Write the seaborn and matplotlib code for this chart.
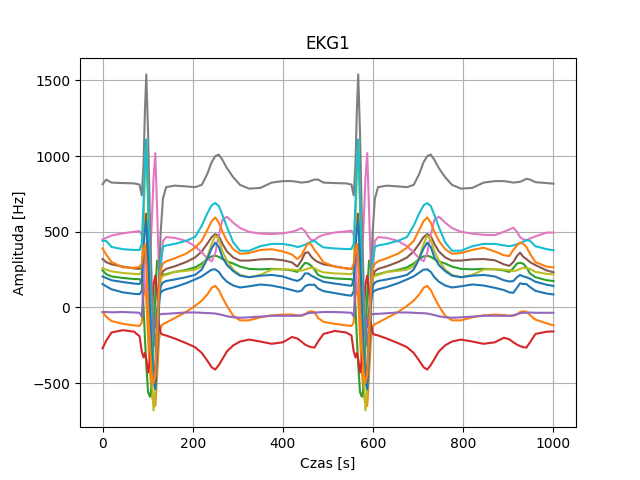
import matplotlib
matplotlib.use("Agg")
import matplotlib.pyplot as plt
import seaborn as sns

# os czasu (dwa pelne cykle + poczatek trzeciego)
czas = [0, 8, 20, 45, 70, 82, 87, 91, 94, 97, 101, 105, 109, 113, 117, 121, 125, 129, 134, 141,
        160, 185, 205, 220, 232, 242, 250, 258, 266, 276, 290, 305, 325, 350, 375, 400, 420, 432, 441, 449, 456, 463,
        470, 478, 490, 515, 540, 552, 557, 561, 564, 567, 571, 575, 579, 583, 587, 591, 595, 599, 604, 611,
        630, 655, 675, 690, 702, 712, 720, 728, 736, 746, 760, 775, 795, 820, 845, 870, 890, 902, 911, 919, 926, 933,
        940, 948, 960, 985, 1000]

k1 = [155, 140, 120, 100, 90, 88, 110, 250, 350, 400, 250, 50, -100, -160, -120, -20, 60, 100, 112, 120,
      135, 160, 185, 205, 230, 250, 252, 235, 200, 170, 145, 132, 140, 152, 145, 130, 115, 105, 110, 140, 150, 150,
      150, 125, 108, 95, 82, 78, 105, 250, 350, 400, 250, 50, -100, -160, -120, -20, 60, 100, 112, 120,
      135, 160, 185, 205, 230, 250, 252, 235, 200, 170, 145, 132, 140, 152, 145, 130, 115, 100, 97, 130, 160, 155,
      155, 135, 110, 92, 86]
k2 = [-30, -60, -90, -108, -118, -122, -100, 80, 150, 60, -200, -420, -570, -640, -650, -450, -220, -130, -110, -100,
      -70, -30, 10, 45, 85, 130, 143, 115, 65, 10, -55, -85, -85, -65, -52, -47, -47, -52, -55, -45, -30, -25,
      -30, -70, -95, -108, -118, -122, -100, 80, 150, 60, -200, -420, -570, -640, -650, -450, -220, -130, -110, -100,
      -70, -30, 10, 45, 85, 130, 143, 115, 65, 10, -55, -85, -85, -65, -52, -47, -50, -55, -55, -45, -30, -25,
      -28, -50, -80, -105, -118]
k3 = [245, 220, 205, 195, 188, 187, 170, 0, -200, -380, -560, -590, -530, -250, 100, 310, 260, 215, 215, 220,
      235, 248, 265, 290, 320, 338, 342, 335, 320, 305, 290, 270, 255, 252, 255, 252, 245, 235, 265, 295, 290, 275,
      250, 215, 200, 192, 188, 187, 170, 0, -200, -380, -560, -590, -530, -250, 100, 310, 260, 215, 215, 220,
      235, 248, 265, 290, 320, 338, 342, 335, 320, 305, 290, 270, 255, 252, 255, 252, 245, 235, 260, 290, 295, 290,
      265, 225, 200, 180, 175]
k4 = [-270, -220, -165, -150, -160, -190, -290, -330, -300, -340, -430, -350, -50, 150, 210, 100, -100, -170, -180, -185,
      -205, -235, -262, -300, -350, -395, -410, -380, -340, -290, -250, -225, -212, -225, -240, -230, -195, -205, -225, -245, -255, -262,
      -265, -225, -175, -155, -165, -185, -290, -330, -300, -340, -430, -350, -50, 150, 210, 100, -100, -170, -180, -185,
      -205, -235, -262, -300, -350, -395, -410, -380, -340, -290, -250, -225, -212, -225, -240, -230, -200, -210, -230, -245, -255, -262,
      -265, -230, -175, -160, -158]
k5 = [-30, -30, -32, -30, -33, -35, -60, 150, 350, 420, 250, -100, -200, -150, -80, -50, -45, -45, -42, -42,
      -38, -33, -33, -35, -37, -38, -40, -45, -50, -58, -65, -68, -65, -60, -55, -55, -55, -55, -52, -45, -38, -35,
      -35, -32, -30, -30, -33, -35, -60, 150, 350, 420, 250, -100, -200, -150, -80, -50, -45, -45, -42, -42,
      -38, -33, -33, -35, -37, -38, -40, -45, -50, -58, -65, -68, -65, -60, -55, -55, -55, -55, -52, -45, -38, -35,
      -35, -33, -35, -35, -35]
k6 = [320, 300, 285, 270, 258, 255, 260, 420, 600, 620, 300, -100, -350, -430, -380, -150, 80, 200, 240, 255,
      272, 300, 330, 370, 420, 465, 485, 470, 420, 370, 330, 310, 310, 318, 320, 312, 298, 270, 310, 360, 365, 335,
      315, 300, 285, 272, 258, 255, 260, 420, 600, 620, 300, -100, -350, -430, -380, -150, 80, 200, 240, 255,
      272, 300, 330, 370, 420, 465, 485, 470, 420, 370, 330, 310, 310, 318, 320, 312, 285, 275, 300, 340, 362, 335,
      320, 300, 280, 245, 232]
k7 = [450, 460, 475, 490, 500, 505, 480, 300, 150, 100, 150, 300, 550, 850, 1020, 650, 250, 250, 440, 465,
      460, 440, 405, 365, 325, 305, 360, 480, 580, 600, 560, 525, 500, 488, 485, 490, 500, 512, 525, 505, 470, 445,
      445, 465, 480, 495, 503, 507, 480, 300, 150, 100, 150, 300, 550, 850, 1020, 650, 250, 250, 440, 465,
      460, 440, 405, 365, 325, 305, 360, 480, 580, 600, 560, 525, 500, 488, 480, 478, 500, 515, 527, 500, 465, 450,
      445, 455, 470, 495, 495]
k8 = [815, 845, 825, 822, 820, 812, 740, 950, 1300, 1540, 1150, 600, 150, -150, -250, -100, 200, 500, 720, 795,
      805, 800, 795, 810, 880, 960, 1000, 1010, 975, 920, 860, 810, 785, 790, 825, 835, 835, 830, 825, 828, 830, 838,
      845, 845, 825, 822, 820, 812, 740, 950, 1300, 1540, 1150, 600, 150, -150, -250, -100, 200, 500, 720, 795,
      805, 800, 795, 810, 880, 960, 1000, 1010, 975, 920, 860, 810, 785, 790, 825, 835, 835, 830, 825, 828, 830, 840,
      850, 845, 828, 822, 818]
k9 = [260, 250, 238, 228, 222, 220, 240, 550, 900, 1100, 700, 100, -400, -680, -550, -250, 50, 190, 210, 215,
      235, 242, 250, 270, 330, 420, 475, 450, 370, 310, 250, 215, 200, 215, 250, 254, 250, 246, 243, 250, 258, 262,
      260, 245, 232, 225, 222, 220, 240, 550, 900, 1100, 700, 100, -400, -680, -550, -250, 50, 190, 210, 215,
      235, 242, 250, 270, 330, 420, 475, 450, 370, 310, 250, 215, 200, 215, 250, 254, 250, 246, 240, 245, 255, 262,
      260, 255, 235, 222, 218]
k10 = [440, 440, 400, 385, 380, 380, 420, 700, 950, 1110, 700, 200, -200, -450, -540, -300, 50, 300, 400, 410,
       420, 440, 465, 540, 620, 675, 690, 670, 610, 530, 430, 375, 375, 405, 420, 420, 410, 400, 405, 415, 425, 435,
       440, 420, 397, 390, 386, 386, 420, 700, 950, 1110, 700, 200, -200, -450, -540, -300, 50, 300, 400, 410,
       420, 440, 465, 540, 620, 675, 690, 670, 610, 530, 430, 375, 375, 405, 420, 420, 410, 405, 410, 418, 425, 435,
       445, 440, 405, 385, 378]
k11 = [205, 195, 180, 168, 158, 155, 180, 380, 520, 570, 350, 0, -300, -480, -540, -300, 0, 140, 165, 175,
       185, 200, 215, 250, 320, 390, 428, 400, 330, 280, 240, 210, 200, 210, 215, 205, 185, 175, 190, 225, 225, 210,
       200, 187, 170, 158, 148, 143, 180, 380, 520, 570, 350, 0, -300, -480, -540, -300, 0, 140, 165, 175,
       185, 200, 215, 250, 320, 390, 428, 400, 330, 280, 240, 210, 200, 210, 215, 205, 180, 172, 174, 200, 215, 205,
       200, 190, 170, 150, 142]
k12 = [390, 350, 300, 265, 262, 268, 290, 380, 420, 300, 0, -250, -420, -500, -450, -200, 100, 250, 290, 305,
       325, 355, 395, 440, 510, 570, 595, 560, 500, 440, 385, 355, 360, 380, 385, 370, 350, 320, 345, 390, 425, 415,
       380, 350, 298, 270, 258, 254, 290, 380, 420, 300, 0, -250, -420, -500, -450, -200, 100, 250, 290, 305,
       325, 355, 395, 440, 510, 570, 595, 560, 500, 440, 385, 355, 360, 380, 395, 370, 345, 340, 380, 410, 428, 420,
       400, 355, 300, 270, 265]

odprowadzenia = [k1, k2, k3, k4, k5, k6, k7, k8, k9, k10, k11, k12]

kolory = sns.color_palette("tab10")
fig, ax = plt.subplots(figsize=(6.4, 4.8), dpi=100)
for i, sygnal in enumerate(odprowadzenia):
    sns.lineplot(x=czas, y=sygnal, ax=ax, color=kolory[i % 10], linewidth=1.5)

ax.set_title("EKG1")
ax.set_xlabel("Czas [s]")
ax.set_ylabel("Amplituda [Hz]")
ax.grid(True)
fig.savefig("out.png")
